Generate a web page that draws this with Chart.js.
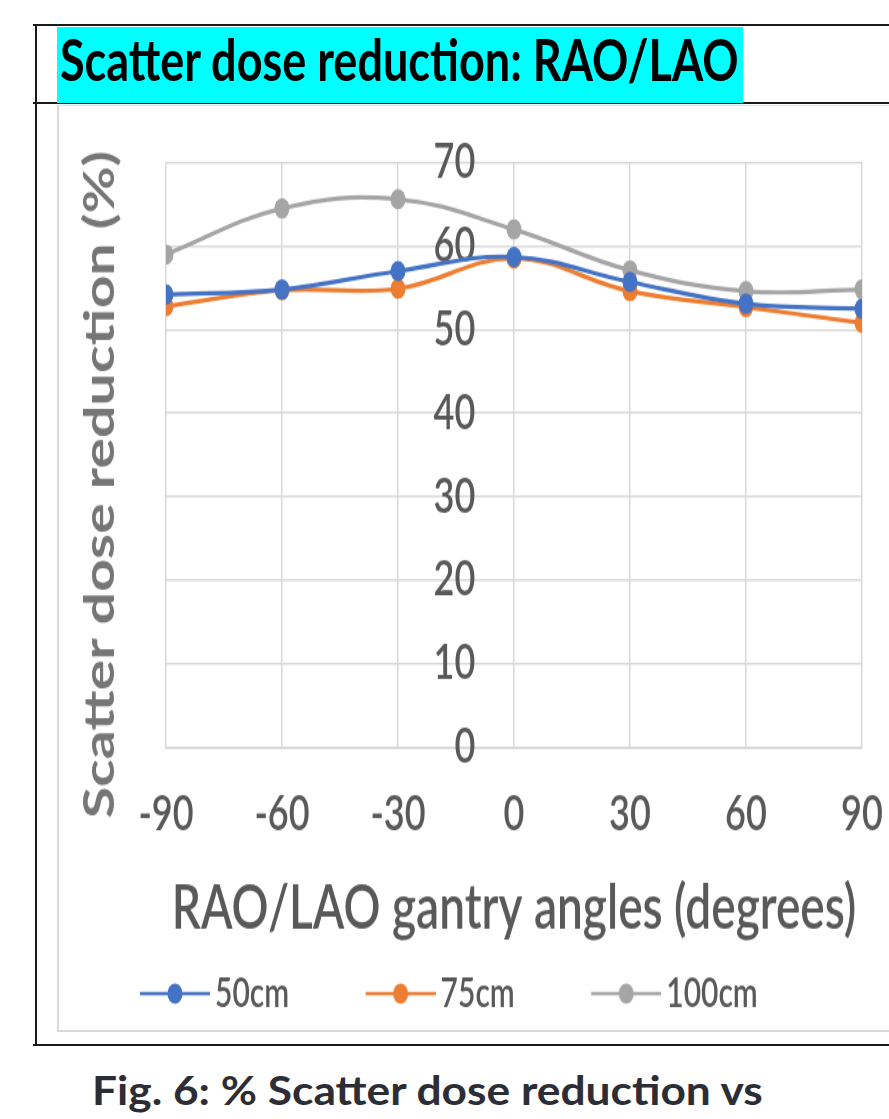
<!DOCTYPE html>
<html>
<head>
<meta charset="utf-8">
<script src="https://cdn.jsdelivr.net/npm/chart.js@4.4.1/dist/chart.umd.min.js"></script>
<style>
  body { margin: 0; width: 889px; height: 1119px; overflow: hidden; background: #fff; position: relative; font-family: Lato, sans-serif; }
  .rule { position: absolute; background: #1a1a1a; }
  #titleBox { position: absolute; left: 57px; top: 27px; width: 686px; height: 76px; background: #00ffff; overflow: hidden; }
  #titleText { position: absolute; left: 3px; top: -1px; font-size: 45px; font-weight: bold; color: #000; white-space: nowrap; transform: scale(1, 1.26); transform-origin: left top; }
  #frame { position: absolute; left: 57px; top: 105px; width: 840px; height: 924px; border-left: 2px solid #d9d9d9; border-top: 1px solid #e3e3e3; border-bottom: 2px solid #d9d9d9; }
  #chartWrap { position: absolute; left: 57px; top: 105px; width: 832px; height: 685px; transform: scale(1, 1.3504); transform-origin: left top; }
  #caption { position: absolute; left: 92px; top: 1065px; font-size: 41px; font-weight: bold; color: #2d2d36; white-space: nowrap; transform: scale(1.08, 1); transform-origin: left top; }
</style>
</head>
<body>
<div class="rule" style="left:33px; top:24px; width:856px; height:2px;"></div>
<div class="rule" style="left:35px; top:24px; width:2px; height:1022px;"></div>
<div class="rule" style="left:33px; top:102px; width:856px; height:2px;"></div>
<div class="rule" style="left:33px; top:1044px; width:856px; height:2px;"></div>
<div id="titleBox"><span id="titleText">Scatter dose reduction: RAO/LAO</span></div>
<div id="frame"></div>
<div id="chartWrap"><canvas id="myChart" width="832" height="685"></canvas></div>
<div id="caption">Fig. 6: % Scatter dose reduction vs</div>

<script>
var angles = [-90, -60, -30, 0, 30, 60, 90];
var series50 = [54.2, 54.8, 57.0, 58.7, 55.7, 53.1, 52.5];
var series75 = [52.8, 54.7, 54.9, 58.5, 54.6, 52.7, 50.8];
var series100 = [59.0, 64.5, 65.6, 62.0, 57.1, 54.6, 54.8];
var seriesNames = ['50cm', '75cm', '100cm'];
var seriesColors = ['#4472c4', '#ed7d31', '#a5a5a5'];
var yTicks = [0, 10, 20, 30, 40, 50, 60, 70];
var yTitleText = 'Scatter dose reduction (%)';

function toPoints(values) {
    return values.map(function (v, i) { return { x: angles[i], y: v }; });
}

// legend marker: line with a dot, drawn to the right side of the box
function legendImage(color) {
    var c = document.createElement('canvas');
    c.width = 140;
    c.height = 20;
    var g = c.getContext('2d');
    g.strokeStyle = color;
    g.lineWidth = 2.3;
    g.beginPath();
    g.moveTo(70, 10);
    g.lineTo(140, 10);
    g.stroke();
    g.fillStyle = color;
    g.beginPath();
    g.arc(105, 10, 7.5, 0, Math.PI * 2);
    g.fill();
    return c;
}
var legendImages = seriesColors.map(legendImage);

// y axis title sits a bit below the plot centre, so draw it here
var yTitlePlugin = {
    id: 'yTitlePlugin',
    afterDraw: function (chart) {
        var c = chart.ctx;
        c.save();
        c.translate(43, 281);
        c.rotate(-Math.PI / 2);
        c.font = 'bold 42.5px Lato, sans-serif';
        c.fillStyle = '#767676';
        c.textAlign = 'center';
        c.textBaseline = 'middle';
        c.fillText(yTitleText, 0, 0);
        c.restore();
    }
};

Chart.defaults.font.family = 'Lato, sans-serif';

var allSeries = [series50, series75, series100];
var ctx2 = document.getElementById('myChart').getContext('2d');
var chart = new Chart(ctx2, {
    type: 'line',
    data: {
        datasets: allSeries.map(function (vals, i) {
            return {
                label: seriesNames[i],
                data: toPoints(vals),
                borderColor: seriesColors[i],
                backgroundColor: seriesColors[i],
                borderWidth: 3.2,
                pointRadius: 7.5,
                pointHoverRadius: 7.5,
                pointBorderWidth: 0,
                tension: 0.4,
                fill: false
            };
        })
    },
    options: {
        responsive: false,
        animation: false,
        events: [],
        layout: { padding: { left: 6.5, right: 27, top: 42.6, bottom: 2 } },
        scales: {
            x: {
                type: 'linear',
                min: -90,
                max: 90,
                afterBuildTicks: function (axis) {
                    axis.ticks = angles.map(function (a) { return { value: a }; });
                },
                grid: { color: '#d9d9d9', lineWidth: 1.5, drawTicks: false },
                border: { color: '#d9d9d9', width: 2 },
                ticks: { color: '#595959', font: { size: 36, weight: '600', lineHeight: 2.48 }, padding: 5 },
                title: {
                    display: true,
                    text: 'RAO/LAO gantry angles (degrees)',
                    color: '#595959',
                    font: { size: 46, weight: '600' },
                    padding: { top: -6.9, bottom: 3.4 }
                }
            },
            y: {
                type: 'linear',
                min: 0,
                max: 70,
                position: { x: -10 },
                afterBuildTicks: function (axis) {
                    axis.ticks = yTicks.map(function (t) { return { value: t }; });
                },
                grid: { color: '#d9d9d9', lineWidth: 1.5, drawTicks: false },
                border: { display: false },
                ticks: { color: '#595959', font: { size: 36, weight: '600' }, padding: 0 }
            },
            spacer: {
                type: 'linear',
                position: 'left',
                display: true,
                grid: { display: false, drawTicks: false },
                border: { display: false },
                ticks: { display: false },
                afterFit: function (axis) { axis.width = 102.5; }
            }
        },
        plugins: {
            legend: {
                position: 'bottom',
                align: 'start',
                labels: {
                    usePointStyle: true,
                    pointStyleWidth: 120,
                    padding: 16.5,
                    color: '#595959',
                    font: { size: 30, weight: '600' },
                    generateLabels: function (chart) {
                        var items = Chart.defaults.plugins.legend.labels.generateLabels(chart);
                        items.forEach(function (item, i) { item.pointStyle = legendImages[i]; });
                        return items;
                    }
                }
            },
            tooltip: { enabled: false }
        }
    },
    plugins: [yTitlePlugin]
});
</script>
</body>
</html>
